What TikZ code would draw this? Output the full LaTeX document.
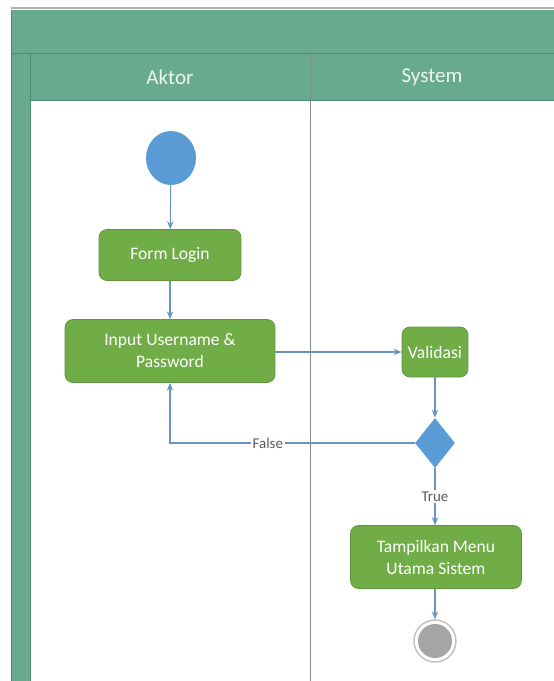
\documentclass[tikz,border=0pt]{standalone}
\usepackage{fontspec}
\setmainfont{Carlito}
\usetikzlibrary{arrows.meta,positioning,shapes.geometric}
\definecolor{lanegreen}{HTML}{67AA8F}
\definecolor{laneline}{HTML}{4E8C72}
\definecolor{divider}{HTML}{7F8C8A}
\definecolor{actgreen}{HTML}{70AD47}
\definecolor{nodeblue}{HTML}{5B9BD5}
\definecolor{flowline}{HTML}{6A93BF}
\definecolor{endgray}{HTML}{A5A5A5}
\definecolor{guardtext}{HTML}{595959}
\tikzset{
  activity/.style={draw=actgreen!85!black, fill=actgreen, rounded corners=4.5pt,
    text=white, align=center, font=\fontsize{10}{12.5}\selectfont, inner sep=2pt},
  flow/.style={draw=flowline, line width=0.6pt, -{Stealth[length=4.5pt,width=3.6pt]}},
  guard/.style={fill=white, text=guardtext, font=\fontsize{8.5}{10}\selectfont, inner sep=1pt},
  lanetitle/.style={text=white!88!lanegreen, font=\fontsize{12}{14}\selectfont}
}
\begin{document}
\begin{tikzpicture}[x=0.02cm,y=-0.02cm,>=Stealth]
        \useasboundingbox (0,0) rectangle (554,681);
        % swimlane pool
        \draw[gray!60, line width=0.8pt] (11,8) -- (554,8);
        \fill[lanegreen] (11,10) rectangle (554,100);
        \fill[lanegreen] (11,100) rectangle (30,681);
        \draw[laneline] (11,10) -- (11,681);
        \draw[laneline] (11,53) -- (554,53);
        \draw[laneline] (30,53) -- (30,681);
        \draw[laneline] (30,100) -- (554,100);
        \draw[divider] (310,53) -- (310,681);
        \node[lanetitle] (aktor) at (170,77) {Aktor};
        \node[lanetitle] (system) at (432,77) {System};

        % aktor lane
        \node[ellipse, fill=nodeblue, minimum width=1.0cm, minimum height=1.08cm, inner sep=0pt] (start) at (171,158) {};
        \node[activity, minimum width=2.84cm, minimum height=1.02cm] (form) at (170,255) {Form Login};
        \node[activity, minimum width=4.2cm, minimum height=1.26cm] (input) at (170,351) {Input Username \&\\Password};

        % system lane
        \node[activity, minimum width=1.32cm, minimum height=1.0cm] (valid) at (435,352) {Validasi};
        \node[diamond, fill=nodeblue, minimum width=0.8cm, minimum height=1.0cm, inner sep=0pt] (decide) at (435,443) {};
        \node[activity, minimum width=3.42cm, minimum height=1.26cm] (menu) at (436,557) {Tampilkan Menu\\Utama Sistem};
        \node[circle, draw=endgray!70, line width=0.8pt, fill=white, minimum size=0.84cm, inner sep=0pt] (stop) at (435,641) {};
        \fill[endgray] (stop) circle[radius=0.34cm];

        % flows
        \draw[flow] (start) -- (form);
        \draw[flow] (form) -- (input);
        \draw[flow] (input.east |- valid) -- (valid);
        \draw[flow] (valid) -- (decide);
        \draw[flow] (decide.west) -| node[guard, pos=0.3]{False} (input.south);
        \draw[flow] (decide.south) -- node[guard, pos=0.5]{True} (decide.south |- menu.north);
        \draw[flow] (menu.south -| stop) -- (stop);
\end{tikzpicture}
\end{document}
